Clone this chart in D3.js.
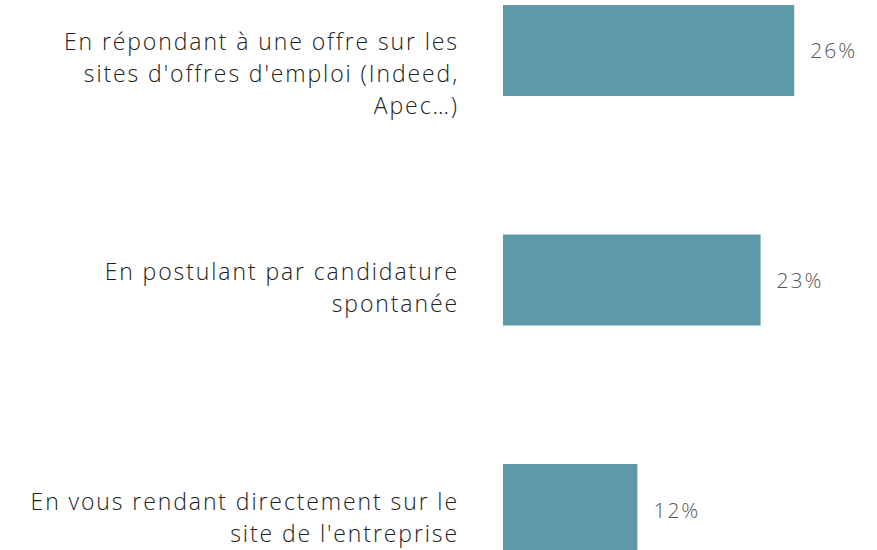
<!DOCTYPE html>
<html>
<head>
<meta charset="utf-8">
<script src="https://cdn.jsdelivr.net/npm/d3@7"></script>
<style>
  body { margin: 0; background: #fff; }
  text { font-family: "Open Sans", Lato, sans-serif; }
</style>
</head>
<body>
<svg width="877" height="550"></svg>
<script>
var categories = [
    ["En répondant à une offre sur les", "sites d'offres d'emploi (Indeed,", "Apec…)"],
    ["En postulant par candidature", "spontanée"],
    ["En vous rendant directement sur le", "site de l'entreprise"]
];
var values = [26, 23, 12];
var valueLabels = ["26%", "23%", "12%"];

var data = values.map(function(v, i) {
    return { key: i, lines: categories[i], value: v, label: valueLabels[i] };
});

var x = d3.scaleLinear().domain([0, 100]).range([503, 1623]);
var y = d3.scaleBand()
    .domain(data.map(function(d) { return d.key; }))
    .range([5, 555])
    .paddingInner(0.6035)
    .paddingOuter(0);

var svg = d3.select('svg');

// bars
svg.append('g').attr('class', 'bars')
    .selectAll('rect')
    .data(data)
    .join('rect')
    .attr('x', x(0))
    .attr('y', function(d) { return y(d.key); })
    .attr('width', function(d) { return x(d.value) - x(0); })
    .attr('height', y.bandwidth())
    .style('fill', '#5e99a9');

// value labels
svg.append('g').attr('class', 'values')
    .selectAll('text')
    .data(data)
    .join('text')
    .attr('x', function(d) { return x(d.value) + 16; })
    .attr('y', function(d) { return y(d.key) + y.bandwidth() / 2 + 8; })
    .style('font-size', '21px')
    .style('font-weight', 300)
    .style('letter-spacing', '2px')
    .style('fill', '#555')
    .text(function(d) { return d.label; });

// category labels, wrapped by hand like the original
// (letter-spacing leaves a trailing gap, so the anchor sits a bit right of 457)
var cat = svg.append('g').attr('class', 'cats')
    .selectAll('text')
    .data(data)
    .join('text')
    .attr('text-anchor', 'end')
    .style('font-size', '23px')
    .style('font-weight', 300)
    .style('letter-spacing', '1.9px')
    .style('fill', '#222');

cat.selectAll('tspan')
    .data(function(d) {
        return d.lines.map(function(l, i) {
            return { text: l, i: i, y0: y(d.key) + y.bandwidth() / 2 };
        });
    })
    .join('tspan')
    .attr('x', 459)
    .attr('y', function(t) { return t.y0 + t.i * 32; })
    .text(function(t) { return t.text; });
</script>
</body>
</html>
